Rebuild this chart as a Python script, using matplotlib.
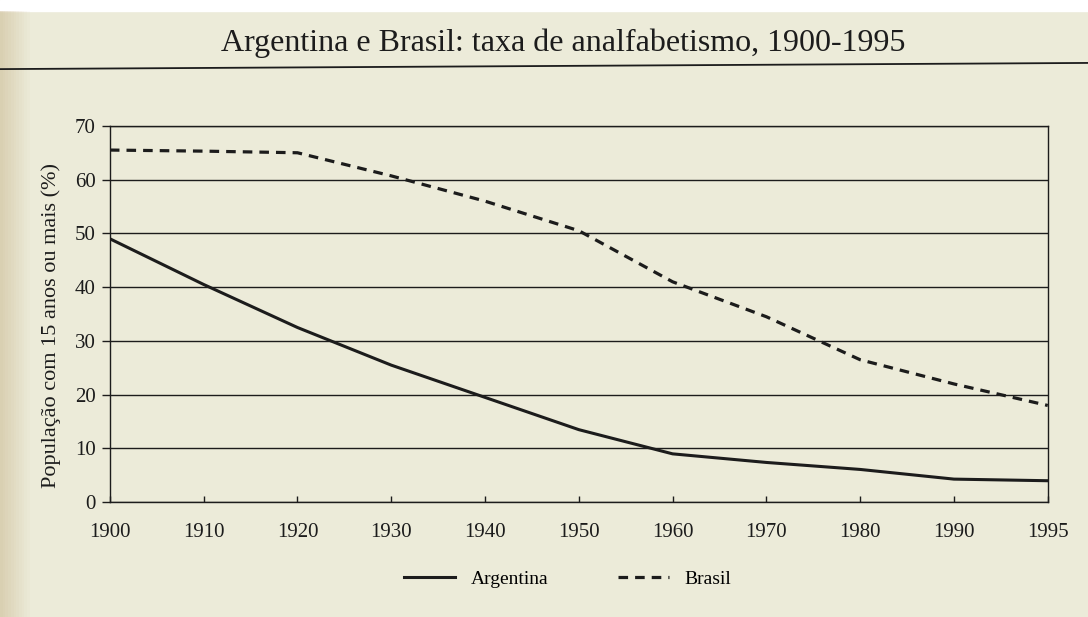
import matplotlib.pyplot as plt
import numpy as np

years = [1900, 1910, 1920, 1930, 1940, 1950, 1960, 1970, 1980, 1990, 1995]
argentina = [49, 40.5, 32.5, 25.5, 19.5, 13.5, 9.0, 7.4, 6.1, 4.3, 4.0]
brasil = [65.5, 65.3, 65.0, 60.7, 56.0, 50.5, 41.0, 34.5, 26.5, 22.0, 18.0]

paper = "#ecebd9"
ink = "#1c1c1c"

plt.rcParams["font.family"] = ["Liberation Serif", "DejaVu Serif"]

fig = plt.figure(figsize=(10.88, 6.17), dpi=100, facecolor=paper)

# scan edges: white strip on top, shadow of the binding on the left
fig.patches.append(plt.Rectangle((0, 0.982), 1, 0.018, transform=fig.transFigure,
                                 color="white", zorder=0))
for i, a in enumerate(np.linspace(0.35, 0.0, 12)):
    fig.patches.append(plt.Rectangle((i * 0.0025, 0), 0.0025, 0.982, transform=fig.transFigure,
                                     color="#b89e6a", alpha=a, lw=0, zorder=0))

ax = fig.add_axes([0.101, 0.186, 0.862, 0.610])
ax.set_facecolor("none")

x = np.arange(len(years))
ax.plot(x, argentina, color=ink, lw=2.2, label="Argentina", zorder=3)
ax.plot(x, brasil, color=ink, lw=2.3, ls=(0, (3.0, 2.2)), label="Brasil", zorder=3)

ax.set_xlim(0, len(years) - 1)
ax.set_ylim(0, 70)
ax.set_yticks(range(0, 71, 10))
ax.set_xticks(x)
ax.set_xticklabels([str(y) for y in years])
ax.yaxis.grid(True, color=ink, lw=1.0)
ax.set_axisbelow(True)

for s in ax.spines.values():
    s.set_color(ink)
    s.set_linewidth(1.0)

ax.tick_params(axis="y", direction="out", length=6, width=1, color=ink,
               labelsize=15, labelcolor=ink, pad=4)
ax.tick_params(axis="x", direction="in", length=4, width=1, color=ink,
               labelsize=15, labelcolor=ink, pad=15)

ax.set_ylabel("População com 15 anos ou mais (%)", fontsize=16, color=ink)
ax.yaxis.set_label_coords(-0.052, 0.47)

fig.text(0.518, 0.93, "Argentina e Brasil: taxa de analfabetismo, 1900-1995",
         ha="center", va="center", fontsize=23, color=ink)
fig.add_artist(plt.Line2D([0.0, 1.0], [0.888, 0.898], transform=fig.transFigure,
                          color=ink, lw=1.3))

ax.legend(loc="upper center", bbox_to_anchor=(0.488, -0.135), ncol=2, frameon=False,
          fontsize=14, handlelength=2.6, columnspacing=3.6, handletextpad=0.8)

fig.savefig("out.png", dpi=100, facecolor=paper)
